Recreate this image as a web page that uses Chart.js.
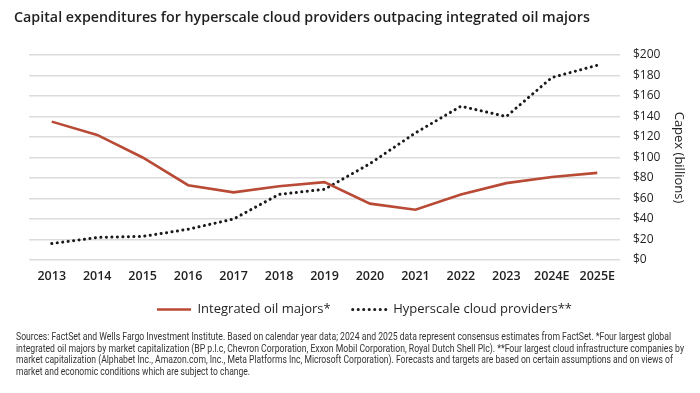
<!DOCTYPE html>
<html>
<head>
<meta charset="utf-8">
<script src="https://cdn.jsdelivr.net/npm/chart.js@4"></script>
<style>
  html, body { margin: 0; padding: 0; background: #fff; }
  #wrap { position: relative; width: 700px; height: 393px; overflow: hidden; }
  #chartBox { position: absolute; left: 0; top: 0; width: 700px; height: 393px; }
  #title {
    position: absolute; left: 14px; top: 7px; white-space: nowrap;
    font-family: 'Open Sans', sans-serif; font-weight: 600; font-size: 15px; color: #1f1f1f;
  }
  #notes { position: absolute; left: 16px; top: 331px; }
  #notes div {
    white-space: nowrap; transform-origin: 0 50%;
    font-family: Roboto, sans-serif; font-size: 11px; line-height: 11.7px; color: #333;
  }
</style>
</head>
<body>
<div id="wrap">
  <div id="chartBox"><canvas id="chart"></canvas></div>
  <div id="title">Capital expenditures for hyperscale cloud providers outpacing integrated oil majors</div>
  <div id="notes">
    <div data-w="655">Sources: FactSet and Wells Fargo Investment Institute. Based on calendar year data; 2024 and 2025 data represent consensus estimates from FactSet. *Four largest global</div>
    <div data-w="668">integrated oil majors by market capitalization (BP p.l.c, Chevron Corporation, Exxon Mobil Corporation, Royal Dutch Shell Plc). **Four largest cloud infrastructure companies by</div>
    <div data-w="657">market capitalization (Alphabet Inc., Amazon.com, Inc., Meta Platforms Inc, Microsoft Corporation). Forecasts and targets are based on certain assumptions and on views of</div>
    <div data-w="234">market and economic conditions which are subject to change.</div>
  </div>
</div>
<script>
// Capex in $ billions
const years = ['2013', '2014', '2015', '2016', '2017', '2018', '2019', '2020', '2021', '2022', '2023', '2024E', '2025E'];
const oilMajors = [135, 122, 100, 73, 66, 72, 76, 55, 49, 64, 75, 81, 85];
const cloudProviders = [16, 22, 23, 30, 40, 64, 69, 94, 124, 150, 140, 178, 190];
const yTicks = [0, 20, 40, 60, 80, 100, 120, 140, 160, 180, 200];

// squeeze the footnote lines to the condensed widths of the original
function fitNotes() {
  document.querySelectorAll('#notes div').forEach((el) => {
    el.style.display = 'inline-block';
    const w = el.getBoundingClientRect().width;
    el.style.display = 'block';
    el.style.transform = `scaleX(${el.dataset.w / w})`;
  });
  const title = document.getElementById('title');
  const tw = title.getBoundingClientRect().width;
  title.style.fontSize = (15 * 576 / tw).toFixed(2) + 'px';
}

// legend sits a bit closer to the axis than Chart.js puts it
const legendNudge = {
  id: 'legendNudge',
  afterLayout(chart) {
    chart.legend.top -= 12;
    chart.legend.bottom -= 12;
  },
};

const ctx = document.getElementById('chart').getContext('2d');
new Chart(ctx, {
  type: 'line',
  plugins: [legendNudge],
  data: {
    labels: years,
    datasets: [
      {
        label: 'Integrated oil majors*',
        data: oilMajors,
        borderColor: '#b84a36',
        backgroundColor: '#b84a36',
        borderWidth: 2.6,
        pointRadius: 0,
        tension: 0,
      },
      {
        label: 'Hyperscale cloud providers**',
        data: cloudProviders,
        borderColor: '#1a1a1a',
        backgroundColor: '#1a1a1a',
        borderWidth: 3,
        borderDash: [0.1, 5.4],
        borderCapStyle: 'round',
        pointRadius: 0,
        tension: 0,
      },
    ],
  },
  options: {
    responsive: true,
    maintainAspectRatio: false,
    animation: false,
    layout: { padding: { top: 55, left: 29, right: 0, bottom: 55 } },
    plugins: {
      tooltip: { enabled: false },
      legend: {
        position: 'bottom',
        labels: {
          usePointStyle: true,
          pointStyle: 'line',
          pointStyleWidth: 34,
          padding: 22,
          color: '#1f1f1f',
          font: { family: 'Open Sans', size: 13, weight: '500' },
          generateLabels: (chart) => {
            const items = Chart.defaults.plugins.legend.labels.generateLabels(chart);
            items.forEach((item) => {
              const ds = chart.data.datasets[item.datasetIndex];
              item.strokeStyle = ds.borderColor;
              item.lineWidth = ds.borderWidth;
              item.lineDash = ds.borderDash || [];
              item.lineCap = ds.borderCapStyle || 'butt';
            });
            return items;
          },
        },
      },
    },
    scales: {
      x: {
        offset: true,
        grid: { display: false, drawTicks: false },
        border: { display: false },
        ticks: {
          color: '#1f1f1f',
          padding: 9,
          maxRotation: 0,
          autoSkip: false,
          font: { family: 'Open Sans', size: 12.5, weight: '600' },
        },
      },
      y: {
        position: 'right',
        min: 0,
        max: 200,
        afterBuildTicks: (scale) => { scale.ticks = yTicks.map((v) => ({ value: v })); },
        grid: { color: '#dcdcdc', lineWidth: 1.5, drawTicks: false },
        border: { display: false },
        ticks: {
          color: '#1f1f1f',
          padding: 13,
          font: { family: 'Open Sans', size: 12 },
          callback: (v) => '$' + v,
        },
        title: {
          display: true,
          text: 'Capex (billions)',
          color: '#1f1f1f',
          padding: { top: 13, bottom: 0 },
          font: { family: 'Open Sans', size: 13, weight: '500' },
        },
        afterFit: (scale) => { scale.width = 80; },
      },
    },
  },
});

fitNotes();
</script>
</body>
</html>
